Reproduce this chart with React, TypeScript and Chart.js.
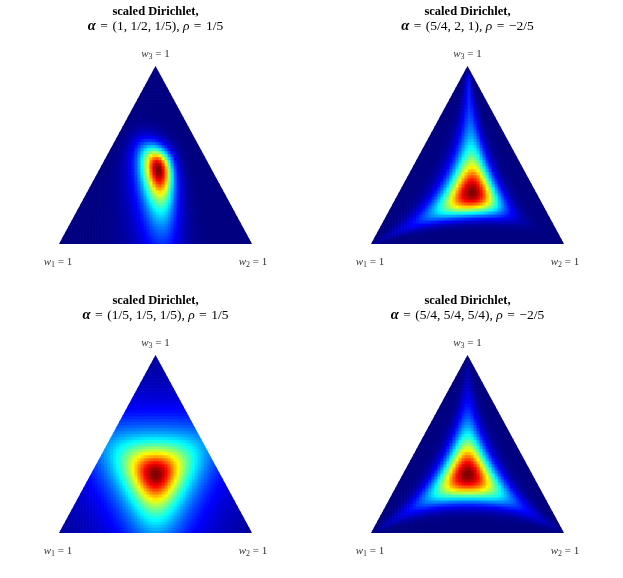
import React, { useEffect, useRef } from 'react';
import { Chart, registerables } from 'chart.js';

Chart.register(...registerables);

// ---------------- data ----------------
const panelTitle = 'scaled Dirichlet,';
const alphaText = ['(1, 1/2, 1/5),', '(5/4, 2, 1),', '(1/5, 1/5, 1/5),', '(5/4, 5/4, 5/4),'];
const rhoText = ['1/5', '\u22122/5', '1/5', '\u22122/5'];
const alpha1 = [1, 5 / 4, 1 / 5, 5 / 4];
const alpha2 = [1 / 2, 2, 1 / 5, 5 / 4];
const alpha3 = [1 / 5, 1, 1 / 5, 5 / 4];
const rho = [1 / 5, -2 / 5, 1 / 5, -2 / 5];
const vertexSub = ['1', '2', '3'];
const vertexValue = '1';
const gridCols = 64;
const gridRows = 59;

const SERIF = '"Liberation Serif", "Times New Roman", serif';
const EQ = '\u2004=\u2004';

// ---------------- helpers ----------------
function lgamma(x: number): number {
  const g = 7;
  const c = [
    0.99999999999980993, 676.5203681218851, -1259.1392167224028, 771.32342877765313,
    -176.61502916214059, 12.507343278686905, -0.13857109526572012, 9.9843695780195716e-6,
    1.5056327351493116e-7,
  ];
  if (x < 0.5) return Math.log(Math.PI / Math.abs(Math.sin(Math.PI * x))) - lgamma(1 - x);
  x -= 1;
  let a = c[0];
  const t = x + g + 0.5;
  for (let i = 1; i < g + 2; i++) a += c[i] / (x + i);
  return 0.5 * Math.log(2 * Math.PI) + (x + 0.5) * Math.log(t) - t + Math.log(a);
}

function logDensity(w: number[], a: number[], r: number): number {
  const abar = a[0] + a[1] + a[2];
  let lp = 0;
  const terms: number[] = [];
  for (let i = 0; i < 3; i++) {
    const lc = lgamma(a[i] + r) - lgamma(a[i]);
    const lcw = lc + Math.log(w[i]);
    lp += (a[i] / r) * lcw - Math.log(w[i]);
    terms.push(lcw / r);
  }
  const m = Math.max(...terms);
  const ls = m + Math.log(terms.reduce((s, t) => s + Math.exp(t - m), 0));
  return lp - (r + abar) * ls;
}

function clamp01(v: number) {
  return Math.max(0, Math.min(1, v));
}
function jet(t: number): string {
  const r = clamp01(1.5 - Math.abs(4 * t - 3));
  const g = clamp01(1.5 - Math.abs(4 * t - 2));
  const b = clamp01(1.5 - Math.abs(4 * t - 1));
  return `rgb(${Math.round(r * 255)},${Math.round(g * 255)},${Math.round(b * 255)})`;
}

type Cell = { x: number; y: number; v: number };

function buildCells(k: number): Cell[] {
  const a = [alpha1[k], alpha2[k], alpha3[k]];
  const r = rho[k];
  const dx = 1 / gridCols;
  const dy = 1 / gridRows;
  const raw: { x: number; y: number; L: number }[] = [];
  let maxL = -Infinity;
  for (let j = 0; j < gridRows; j++) {
    const y = (j + 0.5) * dy;
    for (let i = 0; i < gridCols; i++) {
      const x = (i + 0.5) * dx;
      if (x < y / 2 - dx || x > 1 - y / 2 + dx) continue;
      const eps = 0.004;
      let w3 = Math.max(y, eps);
      let w2 = Math.max(x - y / 2, eps);
      let w1 = Math.max(1 - (x - y / 2) - y, eps);
      const s = w1 + w2 + w3;
      w1 /= s; w2 /= s; w3 /= s;
      const L = logDensity([w1, w2, w3], a, r);
      if (L > maxL) maxL = L;
      raw.push({ x, y, L });
    }
  }
  return raw.map((c) => ({ x: c.x, y: c.y, v: Math.exp(c.L - maxL) }));
}

type Seg = { text: string; font: string; dy?: number };
function drawSegments(ctx: CanvasRenderingContext2D, segs: Seg[], cx: number, baseline: number) {
  let total = 0;
  const widths: number[] = [];
  for (const s of segs) {
    ctx.font = s.font;
    const w = ctx.measureText(s.text).width;
    widths.push(w);
    total += w;
  }
  let x = cx - total / 2;
  ctx.textAlign = 'left';
  ctx.textBaseline = 'alphabetic';
  segs.forEach((s, i) => {
    ctx.font = s.font;
    ctx.fillText(s.text, x, baseline + (s.dy || 0));
    x += widths[i];
  });
}

const heatPlugin = {
  id: 'ternaryHeat',
  beforeDatasetsDraw(chart: any) {
    const ctx: CanvasRenderingContext2D = chart.ctx;
    const xs = chart.scales.x;
    const ys = chart.scales.y;
    const data: Cell[] = chart.data.datasets[0].data;
    const dx = 1 / gridCols;
    const dy = 1 / gridRows;
    ctx.save();
    ctx.beginPath();
    ctx.moveTo(xs.getPixelForValue(0), ys.getPixelForValue(0));
    ctx.lineTo(xs.getPixelForValue(1), ys.getPixelForValue(0));
    ctx.lineTo(xs.getPixelForValue(0.5), ys.getPixelForValue(1));
    ctx.closePath();
    ctx.clip();
    for (const c of data) {
      const x0 = xs.getPixelForValue(c.x - dx / 2);
      const x1 = xs.getPixelForValue(c.x + dx / 2);
      const y0 = ys.getPixelForValue(c.y - dy / 2);
      const y1 = ys.getPixelForValue(c.y + dy / 2);
      ctx.fillStyle = jet(c.v);
      ctx.fillRect(x0, y1, x1 - x0 + 0.7, y0 - y1 + 0.7);
    }
    ctx.restore();
  },
};

function makeTextPlugin(k: number) {
  return {
    id: 'ternaryText',
    afterDraw(chart: any) {
      const ctx: CanvasRenderingContext2D = chart.ctx;
      const xs = chart.scales.x;
      const ys = chart.scales.y;
      const area = chart.chartArea;
      ctx.save();
      ctx.fillStyle = '#000';
      const cx = (area.left + area.right) / 2;
      drawSegments(
        ctx,
        [
          { text: '\u03b1', font: `italic bold 14.5px ${SERIF}` },
          { text: EQ + alphaText[k] + ' ', font: `13.5px ${SERIF}` },
          { text: '\u03c1', font: `italic 13.5px ${SERIF}` },
          { text: EQ + rhoText[k], font: `13.5px ${SERIF}` },
        ],
        cx,
        area.top - 36.5
      );
      ctx.fillStyle = '#333';
      const lab = (sub: string): Seg[] => [
        { text: 'w', font: `italic 11px ${SERIF}` },
        { text: sub, font: `8px ${SERIF}`, dy: 2 },
        { text: ' = ' + vertexValue, font: `11px ${SERIF}` },
      ];
      drawSegments(ctx, lab(vertexSub[2]), xs.getPixelForValue(0.5), ys.getPixelForValue(1) - 9);
      drawSegments(ctx, lab(vertexSub[0]), xs.getPixelForValue(0) - 1, ys.getPixelForValue(0) + 21);
      drawSegments(ctx, lab(vertexSub[1]), xs.getPixelForValue(1) + 1, ys.getPixelForValue(0) + 21);
      ctx.restore();
    },
  };
}

function Panel({ k, left, top, width, height }: { k: number; left: number; top: number; width: number; height: number }) {
  const ref = useRef<HTMLCanvasElement | null>(null);
  useEffect(() => {
    if (!ref.current) return;
    const cells = buildCells(k);
    const chart = new Chart(ref.current, {
      type: 'scatter',
      data: {
        datasets: [
          {
            label: 'density',
            data: cells as any,
            pointRadius: 0,
            pointHoverRadius: 0,
          },
        ],
      },
      options: {
        animation: false,
        responsive: false,
        events: [],
        layout: { padding: { left: 59, right: width - 252, top: 0, bottom: height - 244 } },
        scales: {
          x: { type: 'linear', min: 0, max: 1, display: false },
          y: { type: 'linear', min: 0, max: 1, display: false },
        },
        plugins: {
          legend: { display: false },
          tooltip: { enabled: false },
          title: {
            display: true,
            text: panelTitle,
            color: '#000',
            font: { family: SERIF, size: 12.5, weight: 'bold', lineHeight: 1 },
            padding: { top: 5.5, bottom: 48 },
          },
        },
      },
      plugins: [heatPlugin, makeTextPlugin(k)],
    });
    return () => chart.destroy();
  }, [k, width, height]);
  return (
    <div style={{ position: 'absolute', left, top, width, height }}>
      <canvas ref={ref} width={width} height={height} style={{ display: 'block', width, height }} />
    </div>
  );
}

export default function App() {
  return (
    <div style={{ position: 'absolute', left: 0, top: 0, width: 623, height: 578, background: '#fff' }}>
      <Panel k={0} left={0} top={0} width={312} height={289} />
      <Panel k={1} left={312} top={0} width={311} height={289} />
      <Panel k={2} left={0} top={289} width={312} height={289} />
      <Panel k={3} left={312} top={289} width={311} height={289} />
    </div>
  );
}
